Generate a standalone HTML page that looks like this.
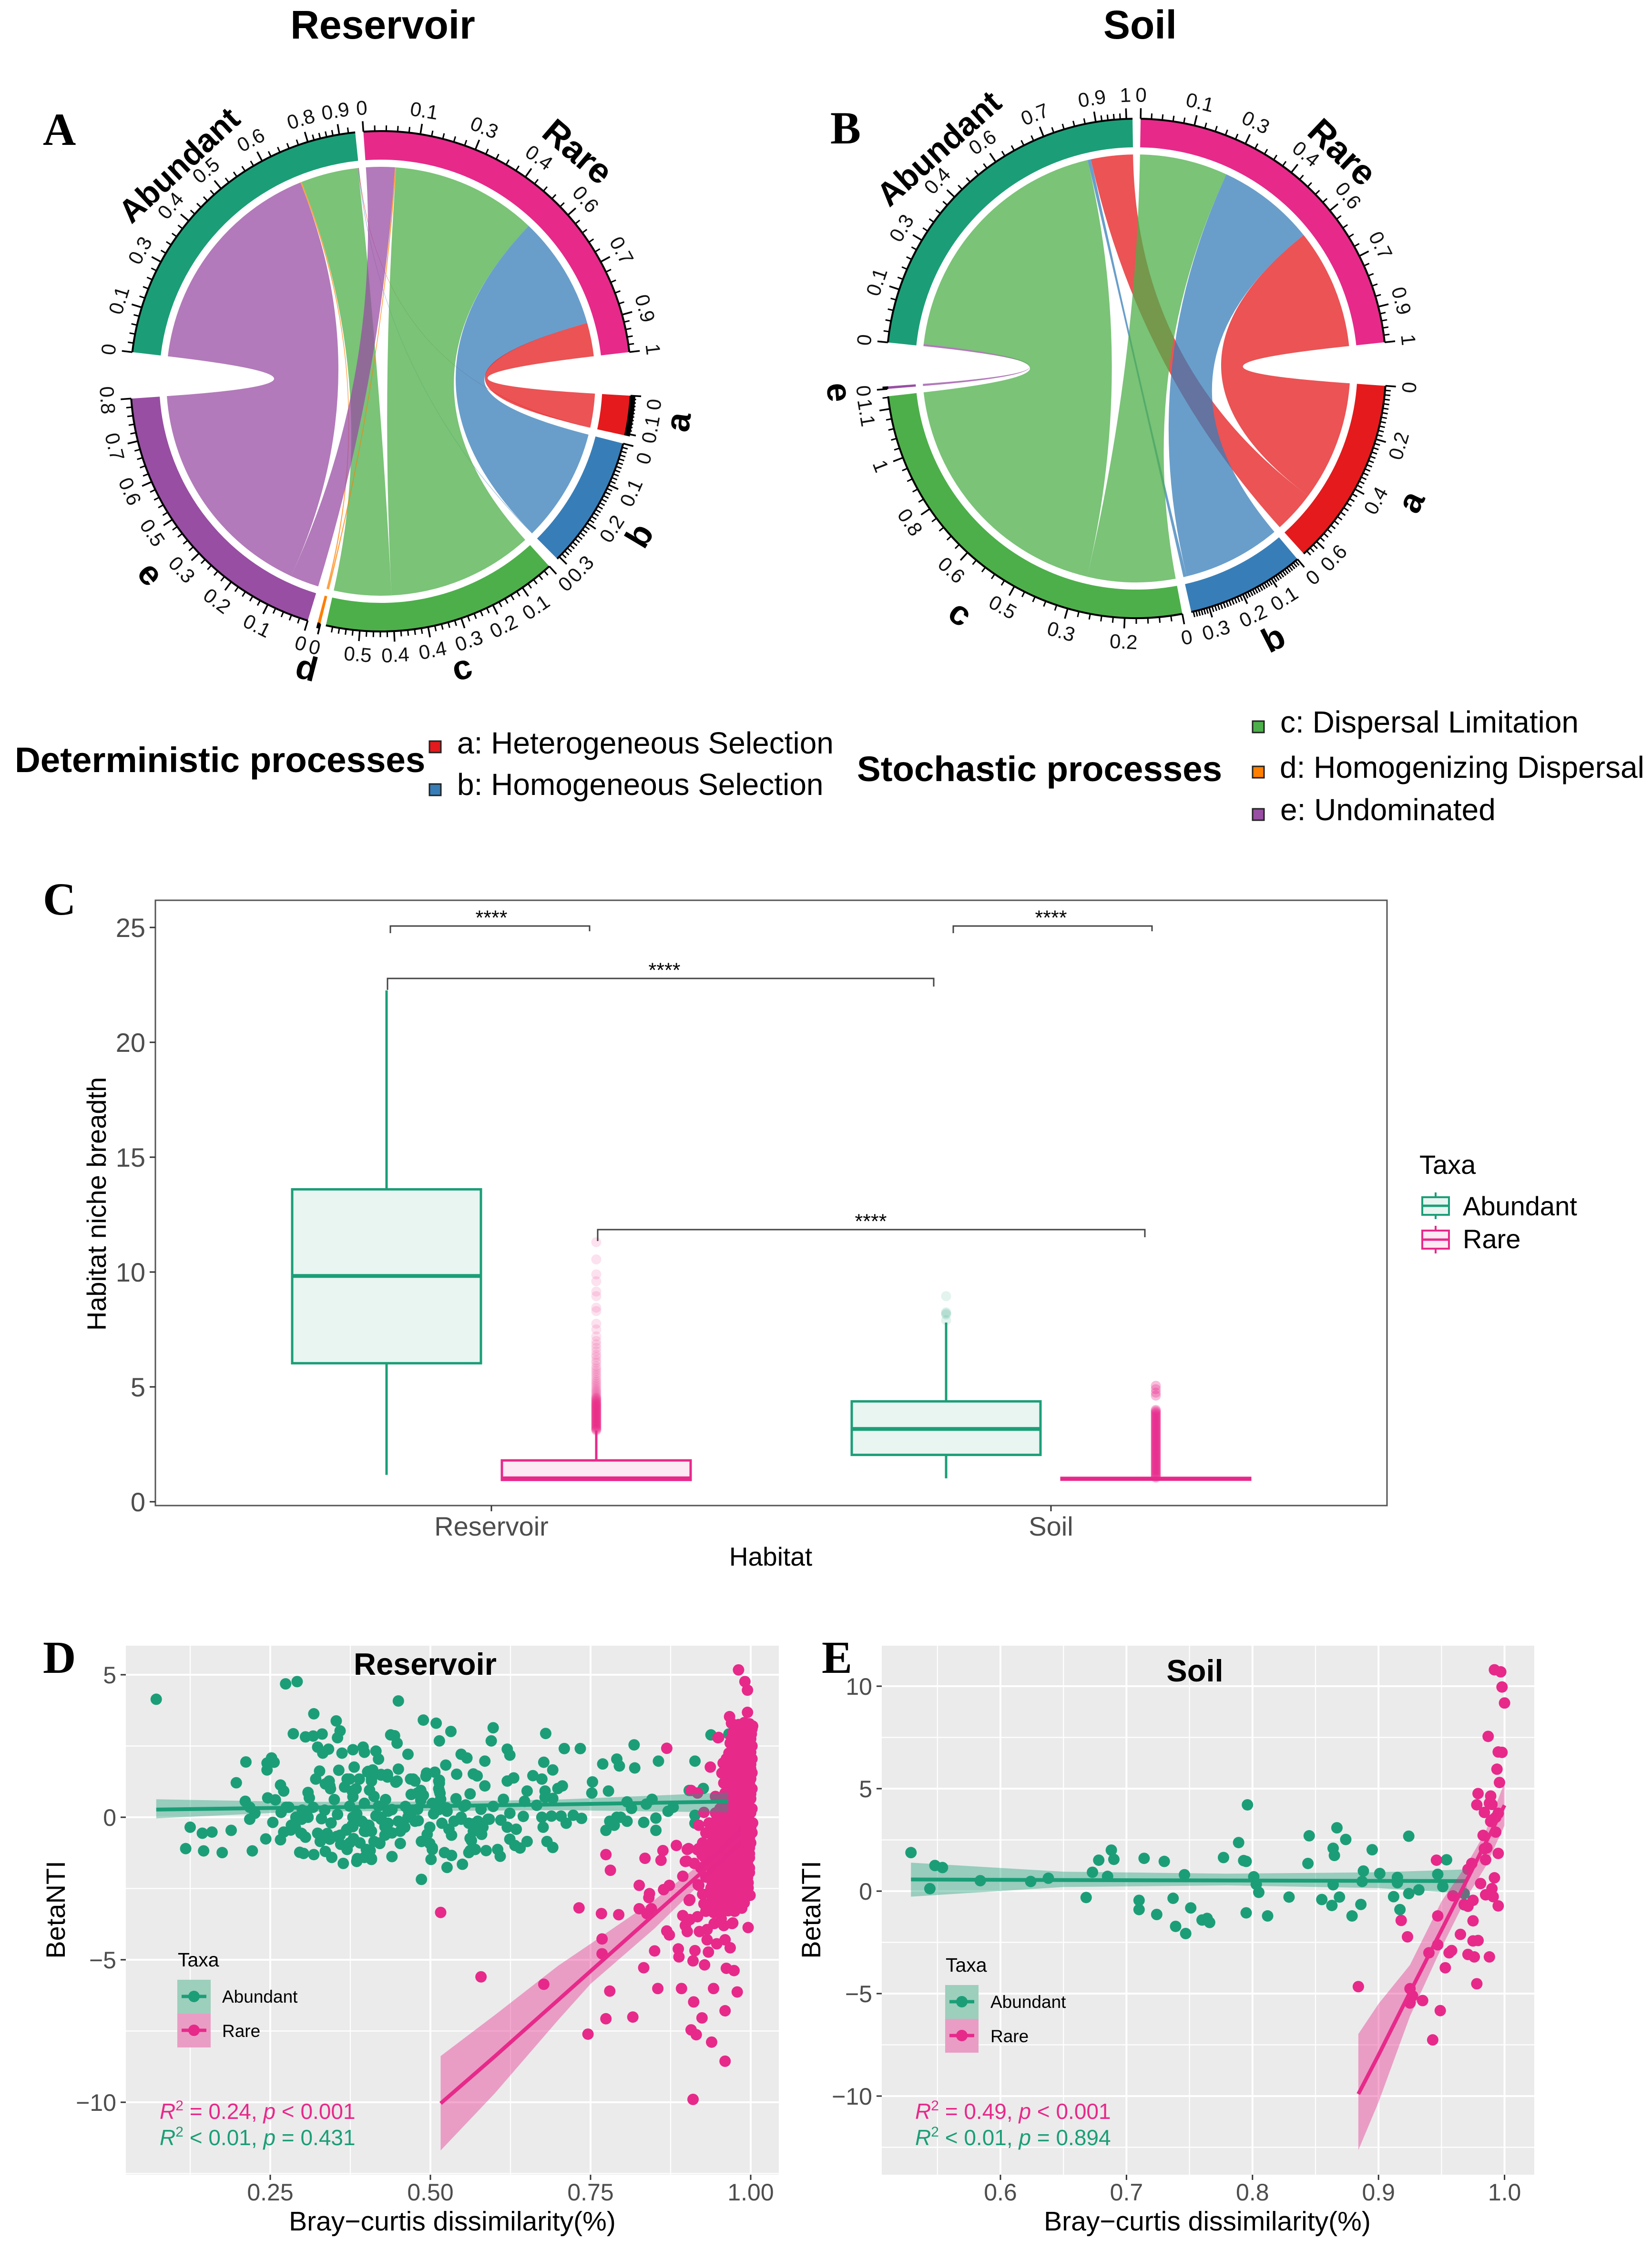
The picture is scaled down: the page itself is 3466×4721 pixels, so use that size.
<!DOCTYPE html>
<html lang="en">
<head>
<meta charset="utf-8">
<title>Community assembly chord diagrams, niche breadth and BetaNTI scatter plots</title>
<style>
html,body{margin:0;padding:0;background:#fff}
svg{display:block}
text{font-family:"Liberation Sans",Arial,sans-serif}
.letter{font-family:"Liberation Serif","Times New Roman",serif;font-weight:700;font-size:96px;fill:#000}
.title{font-weight:700;font-size:84px;fill:#000;text-anchor:middle}
.procs{font-weight:700;font-size:74.5px;fill:#000}
.leg{font-size:64px;fill:#000}
.stars{font-size:43px;fill:#000;text-anchor:middle}
.tickC{font-size:56px;fill:#4d4d4d}
.axisT{font-size:56px;fill:#000}
.tickS{font-size:50px;fill:#4d4d4d}
.axisS{font-size:57px;fill:#000}
.panelT{font-size:65px;font-weight:700;fill:#000;text-anchor:middle}
.r2{font-size:46px}
</style>
</head>
<body>
<svg id="figure" xmlns="http://www.w3.org/2000/svg" width="3466" height="4721" viewBox="0 0 3466 4721">
  <rect width="3466" height="4721" fill="#fff"/>

  <text class="title" x="803" y="81">Reservoir</text>
  <text class="title" x="2392" y="81">Soil</text>
  <text class="letter" x="90" y="304">A</text>
  <text class="letter" x="1742" y="301">B</text>
  <g id="chordA"></g>
  <g id="chordB"></g>

  <g>
    <text class="procs" x="31" y="1620">Deterministic processes</text>
    <rect x="901" y="1555" width="24" height="24" fill="#E41A1C" stroke="#222" stroke-width="3"/>
    <text class="leg" x="959" y="1581">a: Heterogeneous Selection</text>
    <rect x="901" y="1645" width="24" height="24" fill="#377EB8" stroke="#222" stroke-width="3"/>
    <text class="leg" x="959" y="1668">b: Homogeneous Selection</text>
    <text class="procs" x="1798" y="1639">Stochastic processes</text>
    <rect x="2628" y="1513" width="24" height="24" fill="#4DAF4A" stroke="#222" stroke-width="3"/>
    <text class="leg" x="2686" y="1537">c: Dispersal Limitation</text>
    <rect x="2628" y="1608" width="24" height="24" fill="#FF7F00" stroke="#222" stroke-width="3"/>
    <text class="leg" x="2685" y="1632">d: Homogenizing Dispersal</text>
    <rect x="2628" y="1697" width="24" height="24" fill="#984EA3" stroke="#222" stroke-width="3"/>
    <text class="leg" x="2686" y="1721">e: Undominated</text>
  </g>

  <text class="letter" x="90" y="1919">C</text>
  <g id="boxplot"></g>
  <g fill="none" stroke="#444" stroke-width="3">
    <path d="M819 1958V1943H1237V1954"/>
    <path d="M2000 1958V1943H2417V1954"/>
    <path d="M813 2077V2053H1959V2070"/>
    <path d="M1254 2604V2580H2402V2596"/>
  </g>
  <text class="stars" x="1031" y="1940">****</text>
  <text class="stars" x="2205" y="1940">****</text>
  <text class="stars" x="1394" y="2050">****</text>
  <text class="stars" x="1827" y="2577">****</text>
  <text class="axisT" x="1617" y="3285" text-anchor="middle" style="font-size:55px">Habitat</text>
  <text class="axisT" transform="translate(222 2526) rotate(-90)" text-anchor="middle">Habitat niche breadth</text>
  <g>
    <text class="axisT" x="2978" y="2463">Taxa</text>
    <path d="M3012 2502V2558" stroke="#1B9E77" stroke-width="4"/>
    <rect x="2984" y="2512" width="56" height="37" fill="#E8F5F1" stroke="#1B9E77" stroke-width="4"/>
    <path d="M2984 2530H3040" stroke="#1B9E77" stroke-width="5"/>
    <text class="axisT" x="3069" y="2550">Abundant</text>
    <path d="M3012 2572V2630" stroke="#E7298A" stroke-width="4"/>
    <rect x="2984" y="2582" width="56" height="38" fill="#FCE9F3" stroke="#E7298A" stroke-width="4"/>
    <path d="M2984 2601H3040" stroke="#E7298A" stroke-width="5"/>
    <text class="axisT" x="3069" y="2619">Rare</text>
  </g>

  <g id="scatterD"></g>
  <g id="scatterE"></g>

  <text class="letter" x="90" y="3510">D</text>
  <text class="panelT" x="892" y="3514">Reservoir</text>
  <text class="axisT" transform="translate(136 4007) rotate(-90)" text-anchor="middle">BetaNTI</text>
  <text class="axisS" x="949" y="4680" text-anchor="middle">Bray−curtis dissimilarity(%)</text>
  <g>
    <text x="373" y="4126" style="font-size:41px" fill="#000">Taxa</text>
    <rect x="372" y="4154" width="70" height="71" fill="#9CCFBC"/>
    <rect x="372" y="4225" width="70" height="71" fill="#E99DC4"/>
    <path d="M381 4189H433" stroke="#1B9E77" stroke-width="7"/>
    <circle cx="407" cy="4189" r="12" fill="#1B9E77"/>
    <path d="M381 4260H433" stroke="#E7298A" stroke-width="7"/>
    <circle cx="407" cy="4260" r="12" fill="#E7298A"/>
    <text x="466" y="4202" style="font-size:37px" fill="#000">Abundant</text>
    <text x="466" y="4274" style="font-size:37px" fill="#000">Rare</text>
  </g>
  <text class="r2" x="335" y="4446" fill="#E7298A"><tspan font-style="italic">R</tspan><tspan dy="-18" font-size="30">2</tspan><tspan dy="18"> = 0.24, </tspan><tspan font-style="italic">p</tspan> &lt; 0.001</text>
  <text class="r2" x="335" y="4501" fill="#1B9E77"><tspan font-style="italic">R</tspan><tspan dy="-18" font-size="30">2</tspan><tspan dy="18"> &lt; 0.01, </tspan><tspan font-style="italic">p</tspan> = 0.431</text>

  <text class="letter" x="1724" y="3510">E</text>
  <text class="panelT" x="2507" y="3528">Soil</text>
  <text class="axisT" transform="translate(1721 4007) rotate(-90)" text-anchor="middle">BetaNTI</text>
  <text class="axisS" x="2533" y="4680" text-anchor="middle">Bray−curtis dissimilarity(%)</text>
  <g>
    <text x="1984" y="4137" style="font-size:41px" fill="#000">Taxa</text>
    <rect x="1983" y="4165" width="70" height="71" fill="#9CCFBC"/>
    <rect x="1983" y="4236" width="70" height="71" fill="#E99DC4"/>
    <path d="M1992 4200H2044" stroke="#1B9E77" stroke-width="7"/>
    <circle cx="2018" cy="4200" r="12" fill="#1B9E77"/>
    <path d="M1992 4271H2044" stroke="#E7298A" stroke-width="7"/>
    <circle cx="2018" cy="4271" r="12" fill="#E7298A"/>
    <text x="2078" y="4213" style="font-size:37px" fill="#000">Abundant</text>
    <text x="2078" y="4285" style="font-size:37px" fill="#000">Rare</text>
  </g>
  <text class="r2" x="1920" y="4446" fill="#E7298A"><tspan font-style="italic">R</tspan><tspan dy="-18" font-size="30">2</tspan><tspan dy="18"> = 0.49, </tspan><tspan font-style="italic">p</tspan> &lt; 0.001</text>
  <text class="r2" x="1920" y="4501" fill="#1B9E77"><tspan font-style="italic">R</tspan><tspan dy="-18" font-size="30">2</tspan><tspan dy="18"> &lt; 0.01, </tspan><tspan font-style="italic">p</tspan> = 0.894</text>
</svg>

<script>
/* ---------- chord data (relative proportion per taxa group) ---------- */
const reservoirRareFlows = {e:0.089,d:0.004,c:0.452,b:0.351,a:0.104};
const reservoirAbundantFlows = {e:0.702,d:0.004,c:0.178,b:0.0015,a:0.0015};
const reservoirGaps = [10,1.9,2.5,1.3,2.3,10.65,1.9];
const soilRareFlows = {c:0.288,b:0.32,a:0.392};
const soilAbundantFlows = {e:0.007,c:0.847,b:0.011,a:0.137};
const soilGaps = [10,1.9,2.1,1.7,10.1,1.88];

const reservoirTicks = {
  Rare:{v:[0,.15,.3,.45,.6,.75,.9,1],l:['0','0.1','0.3','0.4','0.6','0.7','0.9','1'],n:5},
  a:{v:[0,.1],lv:[.018,.078],l:['0','0.1'],n:11,thick:true},
  b:{v:[0,.115,.23,.345],lv:[.022,.11,.208,.33],l:['0','0.1','0.2','0.3'],n:11},
  c:{v:[0,.09,.18,.27,.36,.45,.54],l:['0','0.1','0.2','0.3','0.4','0.4','0.5'],n:5},
  d:{v:[0],l:['0'],n:1,thick:true},
  e:{v:[0,.113,.226,.339,.452,.565,.678,.791],l:['0','0.1','0.2','0.3','0.5','0.6','0.7','0.8'],n:5},
  Abundant:{v:[0,.12,.25,.38,.5,.63,.76,.845],l:['0','0.1','0.3','0.4','0.5','0.6','0.8','0.9'],n:5}
};
const soilTicks = {
  Rare:{v:[0,.15,.3,.45,.6,.75,.9,1],l:['0','0.1','0.3','0.4','0.6','0.7','0.9','1'],n:5},
  a:{v:[0,.15,.3,.48],l:['0','0.2','0.4','0.6'],n:12},
  b:{v:[0,.09,.18,.28],l:['0','0.1','0.2','0.3'],n:12},
  c:{v:[0,.16,.32,.48,.64,.8,.96,1.1],l:['0','0.2','0.3','0.5','0.6','0.8','1','1.1'],n:5},
  e:{v:[0],l:['0'],n:1,thick:true},
  Abundant:{v:[0,.15,.3,.45,.6,.75,.9,.985],l:['0','0.1','0.3','0.4','0.6','0.7','0.9','1'],n:5}
};
const reservoirNamePlacement = {Rare:{t:40.6,r:635,fs:74},a:{t:97.8,r:630,fs:72},b:{t:120.8,r:632,fs:72},c:{t:164.2,r:625,fs:72},d:{t:194.5,r:622,fs:72},e:{t:230.1,r:630,fs:72},Abundant:{t:317,r:620,fs:68}};
const soilNamePlacement = {Rare:{t:43.6,r:627,fs:74},a:{t:115.9,r:641,fs:72},b:{t:153.1,r:636,fs:72},c:{t:215.7,r:633,fs:72},e:{t:265.4,r:626,fs:72},Abundant:{t:318.1,r:620,fs:69}};

/* ---------- box plot data ---------- */
const habitats = ['Reservoir','Soil'];
const abundantMin = [1.17,1.02];
const abundantQ1 = [6.03,2.04];
const abundantMedian = [9.83,3.17];
const abundantQ3 = [13.6,4.37];
const abundantMax = [22.26,7.8];
const rareMin = [0.95,1.0];
const rareQ1 = [0.95,0.96];
const rareMedian = [1.02,1.0];
const rareQ3 = [1.8,1.04];
const rareMax = [3.1,1.04];
const boxYTicks = [0,5,10,15,20,25];
const reservoirRareOutliers = [11.3,10.55,9.9,9.6,9.15,8.95,8.45,8.3,7.75,7.5,7.2,7.0,6.85,6.7,6.55,6.4,6.3,6.15,6.05,5.9,5.8,5.7,5.6,5.5,5.4,5.3,5.22,5.14,5.06,4.98,4.9,4.84,4.78,4.72,4.66,4.6,4.55,4.5,4.45,4.4,4.35,4.3,4.26,4.22,4.18,4.14,4.1,4.06,4.02,3.98,3.94,3.9,3.86,3.82,3.78,3.74,3.7,3.66,3.62,3.58,3.54,3.5,3.46,3.42,3.38,3.34,3.3,3.26,3.22,3.18,3.14,3.1,4.52,4.47,4.41,4.37,4.32,4.28,4.24,4.2,4.16,4.12,4.08,4.04,4,3.96,3.92,3.88,3.84,3.8,3.76,3.72,3.68,3.64,3.6,3.56,3.52,3.48,3.44,3.4,3.36,3.32,3.28,3.24,3.2,3.16,3.12];
const soilAbundantOutliers = [8.95,8.25,8.2,8.15,7.9];
const soilRareOutliers = [5.05,4.9,4.75,4.62,4.0,3.95,3.85,3.75,3.65,3.55,3.45,3.35,3.25,3.15,3.05,2.95,2.85,2.75,2.65,2.55,2.45,2.35,2.25,2.15,2.05,1.95,1.85,1.75,1.65,1.55,1.45,1.35,1.25,1.15,1.05,3.9,3.8,3.7,3.6,3.5,3.4,3.3,3.2,3.1,3,2.9,2.8,2.7,2.6,2.5,2.4,2.3,2.2,2.1,2,1.9,1.8,1.7,1.6,1.5,1.4,1.3,1.2,1.1];

/* ---------- scatter D (Reservoir) ---------- */
const dXTicks = [0.25,0.5,0.75,1];
const dXTickLabels = ['0.25','0.50','0.75','1.00'];
const dXMinor = [0.125,0.375,0.625,0.875];
const dYTicks = [5,0,-5,-10];
const dYTickLabels = ['5','0','−5','−10'];
const dYMinor = [2.5,-2.5,-7.5,-12.5];
const reservoirAbundantPoints = [[.072,4.14],[.274,4.68],[.292,4.76],[.45,4.08],[.318,3.63],[.353,3.38],[.359,3.03],[.355,2.79],[.286,2.93],[.305,2.82],[.317,2.85],[.331,2.92],[.489,3.41],[.509,3.3],[.532,3.01],[.598,3.14],[.68,2.94],[.438,2.89],[.444,2.86],[.448,2.6],[.514,2.68],[.595,2.68],[.324,2.46],[.341,2.39],[.332,2.25],[.362,2.25],[.379,2.37],[.395,2.46],[.397,2.28],[.415,2.32],[.419,2.04],[.465,2.21],[.212,1.94],[.252,2.08],[.245,1.9],[.256,1.93],[.245,1.66],[.62,2.39],[.624,2.18],[.709,2.41],[.734,2.41],[.818,2.54],[.548,2.21],[.557,2.08],[.585,1.97],[.524,1.83],[.677,1.93],[.691,1.66],[.769,1.87],[.791,2.04],[.795,1.8],[.819,1.73],[.856,1.97],[.913,1.97],[.938,2.89],[.966,2.92],[.327,1.62],[.357,1.65],[.381,1.76],[.402,1.59],[.41,1.66],[.45,1.69],[.321,1.34],[.342,1.27],[.37,1.34],[.389,1.34],[.408,1.27],[.423,1.48],[.433,1.41],[.446,1.23],[.469,1.34],[.476,1.27],[.494,1.55],[.507,1.58],[.514,1.3],[.541,1.51],[.567,1.52],[.573,1.45],[.585,1.1],[.66,1.46],[.674,1.34],[.62,1.27],[.63,1.38],[.753,1.24],[.706,1.1],[.699,1.01],[.752,.85],[.778,.92],[.904,.94],[.926,1.01],[.197,1.21],[.266,1.13],[.271,.92],[.309,.87],[.311,.68],[.343,1.1],[.366,1.06],[.378,.92],[.412,.73],[.48,.85],[.489,.77],[.514,.92],[.516,.63],[.562,.82],[.614,.63],[.651,.92],[.679,.92],[.679,.7],[.691,.66],[.211,.56],[.246,.68],[.258,.61],[.275,.35],[.647,.56],[.666,.42],[.807,.54],[.814,.31],[.837,.46],[.846,.63],[.871,.21],[.879,.35],[.218,.35],[.226,.14],[.218,-.07],[.267,.17],[.279,.35],[.317,.35],[.355,.1],[.374,.39],[.397,.49],[.419,.39],[.434,.21],[.461,.38],[.48,.28],[.503,.49],[.518,.35],[.526,.21],[.552,.38],[.579,.28],[.598,.38],[.624,.14],[.674,0],[.689,.04],[.704,.04],[.723,.07],[.736,-.04],[.645,.03],[.852,-.03],[.797,0],[.807,-.14],[.791,0],[.78,-.14],[.833,-.18],[.913,.07],[.913,-.21],[.852,-.46],[.774,-.46],[.787,-.28],[.712,-.21],[.676,-.35],[.125,-.35],[.144,-.56],[.159,-.52],[.189,-.46],[.118,-1.1],[.146,-1.18],[.175,-1.24],[.222,-1.18],[.243,-.76],[.266,-.79],[.254,-.18],[.29,0],[.309,0],[.283,-.28],[.271,-.52],[.298,-.56],[.305,-.7],[.324,-.56],[.328,-.85],[.343,-.77],[.359,-.63],[.37,-.42],[.378,-.28],[.393,-.14],[.404,-.28],[.397,-.49],[.408,-.49],[.423,-.07],[.434,-.21],[.45,-.14],[.453,-.49],[.465,0],[.476,-.14],[.499,-.35],[.518,-.21],[.537,-.14],[.548,0],[.56,-.21],[.574,-.14],[.59,-.07],[.529,-.42],[.533,-.63],[.567,-.49],[.582,-.35],[.564,-.82],[.62,-.35],[.634,-.42],[.624,-.77],[.651,-.85],[.682,-.85],[.691,-1.06],[.296,-1.23],[.302,-1.27],[.318,-1.31],[.336,-1.2],[.346,-1.41],[.364,-1.62],[.37,-1.13],[.385,-1.55],[.397,-1.41],[.408,-1.48],[.4,-1.13],[.412,-.85],[.421,-.92],[.44,-1.38],[.453,-.92],[.486,-.85],[.499,-.92],[.503,-1.13],[.501,-1.48],[.522,-1.24],[.533,-1.34],[.526,-1.76],[.55,-1.65],[.56,-1.24],[.57,-1.13],[.587,-1.17],[.605,-1.13],[.609,-1.37],[.632,-.99],[.64,-1.08],[.486,-2.18],[.335,.25],[.345,-.2],[.35,.62],[.385,.12],[.39,-.9],[.415,.05],[.43,.62],[.44,-.55],[.47,.8],[.495,-.6],[.505,.12],[.54,.65],[.36,-.95],[.38,-.75],[.3,.25],[.33,-.05],[.405,.95],[.46,-.35],[.58,-.6],[.61,-.1],[.289,-.34],[.299,-.07],[.299,-.57],[.282,-.45],[.307,.1],[.327,-.62],[.339,-.57],[.354,-.67],[.369,-.45],[.379,0],[.379,-.33],[.394,-.17],[.399,-.5],[.374,-.9],[.406,-1.17],[.386,-1.45],[.408,-1.45],[.423,0],[.429,-.33],[.429,-.63],[.421,-.9],[.44,.27],[.458,-.33],[.466,.22],[.47,0],[.481,-.12],[.485,.6],[.485,.94],[.513,.27],[.525,.33],[.515,.84],[.514,1.2],[.555,.43],[.548,-.07],[.567,-.23],[.592,-.07],[.562,-.74],[.562,-1.17],[.503,-1.07],[.336,1.17],[.344,1.0],[.374,1.34],[.384,1.0],[.379,.72],[.403,1.61],[.408,1.34],[.423,1.5],[.433,1.5],[.448,1.27],[.473,1.34],[.493,1.44],[.513,1.27],[.513,1.0]];
const reservoirRareScatter = [[.869,2.42],[.949,2.79],[.937,1.76],[.917,.85],[.907,.94],[.919,-.28],[.884,-.99],[.863,-1.17],[.86,-1.51],[.835,-1.44],[.774,-1.31],[.781,-1.86],[.901,-1.13],[.919,-1.1],[.898,-1.55],[.928,-1.41],[.894,-2.07],[.919,-2.39],[.826,-2.39],[.864,-2.54],[.873,-2.39],[.842,-2.68],[.841,-2.82],[.904,-2.92],[.732,-3.18],[.767,-3.38],[.794,-3.42],[.826,-3.21],[.845,-3.21],[.838,-3.38],[.516,-3.34],[.579,-5.6],[.677,-5.86],[.768,-4.27],[.768,-4.79],[.78,-6.1],[.774,-7.07],[.746,-7.61],[.816,-7.01],[.833,-5.28],[.85,-4.69],[.855,-6.01],[.869,-3.99],[.873,-4.13],[.887,-4.62],[.888,-4.9],[.892,-6.01],[.911,-6.48],[.91,-5.04],[.913,-4.68],[.928,-5.18],[.934,-4.73],[.932,-4.3],[.924,-7.04],[.907,-7.46],[.915,-7.63],[.939,-7.89],[.942,-6.01],[.96,-6.79],[.96,-8.56],[.91,-9.9],[.979,-6.13],[.962,-5.3],[.974,-5.38],[.968,-4.58],[.96,-4.3],[.947,-4.44],[.996,-3.87],[.894,-3.45],[.905,-3.59],[.917,-3.49],[.898,-3.8],[.901,-4.01],[.92,-4.01],[.932,-3.94],[.943,-3.73],[.958,-3.8],[.971,-3.73],[.981,5.17],[.991,4.76],[.995,4.46],[.967,3.53],[.995,3.68],[.95,2.8],[.945,.73],[.927,.17],[.937,-.54],[.938,-1.02],[.903,-1.1],[.917,-1.14],[.924,-1.32],[.9,-1.54],[.912,-1.62],[.922,-1.77],[.918,-2.37],[.905,-2.89],[.927,-3.04],[.942,-3.34],[.954,-3.56],[.972,-3.71],[.986,-3.19],[.999,-2.74]];
const reservoirRareDense = [[.97,3.3],[.981,3.25],[.99,3.32],[.998,3.28],[1.003,3.2],[.972,2.95],[.983,2.9],[.992,3.0],[1.001,2.92],[.968,2.6],[.978,2.65],[.988,2.55],[.998,2.62],[1.002,2.5],[.966,2.25],[.976,2.2],[.985,2.3],[.995,2.18],[1,2.28],[.957,1.9],[.97,1.95],[.98,1.85],[.99,1.92],[1,1.86],[.955,1.55],[.965,1.6],[.975,1.5],[.985,1.58],[.995,1.48],[1.002,1.56],[.958,1.2],[.968,1.26],[.978,1.15],[.988,1.22],[.998,1.17],[.96,.85],[.97,.9],[.98,.8],[.99,.88],[1,.82],[.956,.5],[.966,.55],[.976,.46],[.986,.52],[.996,.48],[.945,.15],[.958,.2],[.97,.1],[.98,.18],[.99,.12],[1,.16],[.935,-.2],[.945,-.15],[.955,-.25],[.965,-.18],[.975,-.22],[.985,-.16],[.995,-.24],[1.003,-.2],[.94,-.55],[.952,-.6],[.962,-.5],[.972,-.58],[.982,-.52],[.992,-.6],[1.002,-.54],[.925,-.9],[.94,-.85],[.952,-.95],[.965,-.88],[.975,-.92],[.985,-.86],[.995,-.94],[1,-.9],[.93,-1.25],[.94,-1.3],[.95,-1.2],[.96,-1.28],[.97,-1.22],[.98,-1.3],[.99,-1.24],[.998,-1.28],[.945,-1.6],[.955,-1.65],[.965,-1.56],[.975,-1.62],[.985,-1.58],[.995,-1.64],[.95,-1.95],[.96,-1.9],[.97,-2.0],[.98,-1.92],[.99,-1.98],[.998,-1.94],[.94,-2.3],[.95,-2.25],[.96,-2.34],[.97,-2.28],[.98,-2.32],[.99,-2.26],[.996,-2.3],[.935,-2.65],[.945,-2.6],[.955,-2.7],[.965,-2.62],[.975,-2.68],[.985,-2.64],[.995,-2.7],[.94,-3.0],[.95,-2.95],[.96,-3.05],[.97,-2.98],[.98,-3.02],[.99,-3.0],[.93,-3.3],[.945,-3.25],[.955,-3.32],[.965,-3.28],[.975,-3.3],[.93,-2.1],[.935,-1.6],[.93,-.55],[.925,-2.7],[.94,-1.9],[.948,-.9],[.975,3.1],[.985,3.1],[.995,3.1],[1.002,3.1],[.97,2.75],[.98,2.75],[.99,2.75],[1,2.75],[.972,2.4],[.982,2.4],[.992,2.4],[.999,2.4],[.962,2.05],[.975,2.05],[.985,2.05],[.995,2.05],[1.002,2.05],[.96,1.7],[.97,1.7],[.98,1.7],[.99,1.7],[1,1.7],[.963,1.35],[.973,1.35],[.983,1.35],[.993,1.35],[1,1.35],[.965,1],[.975,1],[.985,1],[.995,1],[1.002,1],[.962,.65],[.972,.65],[.982,.65],[.992,.65],[1,.65],[.952,.3],[.963,.3],[.973,.3],[.983,.3],[.993,.3],[1.002,.3],[.95,-.03],[.962,-.03],[.975,-.03],[.985,-.03],[.995,-.03],[.94,-.38],[.95,-.38],[.96,-.38],[.97,-.38],[.98,-.38],[.99,-.38],[1,-.38],[.945,-.72],[.958,-.72],[.968,-.72],[.978,-.72],[.988,-.72],[.998,-.72],[.935,-1.07],[.947,-1.07],[.958,-1.07],[.968,-1.07],[.978,-1.07],[.988,-1.07],[.998,-1.07],[.94,-1.42],[.95,-1.42],[.96,-1.42],[.97,-1.42],[.98,-1.42],[.99,-1.42],[.998,-1.42],[.94,-1.78],[.95,-1.78],[.96,-1.78],[.97,-1.78],[.98,-1.78],[.99,-1.78],[.998,-1.78],[.945,-2.12],[.955,-2.12],[.965,-2.12],[.975,-2.12],[.985,-2.12],[.995,-2.12],[.938,-2.48],[.948,-2.48],[.958,-2.48],[.968,-2.48],[.978,-2.48],[.988,-2.48],[.996,-2.48],[.94,-2.82],[.95,-2.82],[.96,-2.82],[.97,-2.82],[.98,-2.82],[.99,-2.82],[.95,-3.15],[.96,-3.15],[.97,-3.15],[.98,-3.15],[.985,-3.15]];
const reservoirAbundantFitX = [.072,.3,.5,.7,.965];
const reservoirAbundantFitY = [.27,.34,.39,.45,.55];
const reservoirAbundantUpper = [.63,.54,.55,.62,.87];
const reservoirAbundantLower = [-.04,.2,.22,.25,.17];
const reservoirRareFitX = [.516,.6,.7,.75,.85,.95,.985];
const reservoirRareFitY = [-10.04,-8.4,-6.4,-5.4,-3.4,-1.41,-.7];
const reservoirRareUpper = [-8.38,-6.95,-5.2,-4.44,-2.9,-1.13,-.3];
const reservoirRareLower = [-11.69,-9.7,-7.1,-5.85,-3.9,-1.7,-1.0];

/* ---------- scatter E (Soil) ---------- */
const eXTicks = [.6,.7,.8,.9,1];
const eXTickLabels = ['0.6','0.7','0.8','0.9','1.0'];
const eXMinor = [.55,.65,.75,.85,.95];
const eYTicks = [10,5,0,-5,-10];
const eYTickLabels = ['10','5','0','−5','−10'];
const eYMinor = [7.5,2.5,-2.5,-7.5,-12.5];
const soilAbundantPoints = [[.529,1.88],[.544,.12],[.548,1.25],[.554,1.15],[.584,.51],[.624,.47],[.638,.63],[.668,-.31],[.673,.92],[.678,1.51],[.685,.72],[.688,2.0],[.69,1.55],[.71,-.45],[.71,-.9],[.714,1.6],[.724,-1.14],[.73,1.45],[.737,-.35],[.739,-1.72],[.746,.8],[.747,-2.07],[.751,-.82],[.76,-1.41],[.764,-1.33],[.766,-1.53],[.777,1.64],[.789,2.37],[.793,1.49],[.795,1.45],[.795,-1.06],[.796,4.21],[.801,.7],[.803,.33],[.805,-.06],[.812,-1.21],[.829,-.29],[.844,1.35],[.845,2.7],[.855,-.41],[.863,-.7],[.864,2.09],[.865,1.74],[.864,.31],[.867,3.09],[.869,-.29],[.874,2.52],[.879,-1.21],[.886,-.65],[.887,.47],[.888,.98],[.895,2.02],[.901,.86],[.912,-.27],[.915,.67],[.915,.41],[.917,-.9],[.924,-.12],[.924,2.68],[.932,.06],[.947,.82],[.954,1.53],[.951,.22],[.968,-.12],[.968,-.67]];
const soilRarePoints = [[.992,10.8],[.997,10.7],[.998,9.96],[1,9.18],[.987,7.55],[.995,6.79],[.998,6.77],[.994,5.95],[.996,5.3],[.979,4.76],[.978,4.21],[.989,4.64],[.988,4.29],[.99,4.23],[.984,3.84],[.995,3.8],[.993,3.6],[.989,3.4],[.991,3.5],[.993,2.88],[.983,2.72],[.984,2.07],[.986,2.11],[.995,1.84],[.985,1.53],[.974,1.35],[.971,1.06],[.946,1.51],[.992,.65],[.981,.37],[.99,.12],[.985,-.18],[.991,-.27],[.995,-.72],[.975,-.45],[.968,-.65],[.971,-.74],[.959,-.23],[.947,-1.21],[.975,-1.45],[.918,-1.43],[.923,-2.23],[.965,-2.11],[.975,-2.43],[.979,-2.41],[.947,-2.62],[.958,-2.9],[.956,-3.01],[.94,-3.01],[.971,-3.09],[.976,-3.21],[.988,-3.21],[.953,-3.74],[.978,-4.52],[.884,-4.66],[.925,-4.76],[.927,-5.11],[.925,-5.46],[.935,-5.34],[.949,-5.83],[.943,-7.26]];
const soilAbundantFitX = [.529,.65,.78,.9,.97];
const soilAbundantFitY = [.57,.54,.52,.5,.49];
const soilAbundantUpper = [1.39,.95,.85,.92,1.06];
const soilAbundantLower = [-.27,.2,.28,.15,-.12];
const soilRareFitX = [.884,.9,.925,.95,.97,.985,1];
const soilRareFitY = [-9.9,-8,-4.93,-1.9,.53,2.35,4.19];
const soilRareUpper = [-6.97,-5.5,-3.6,-.5,1.3,2.9,5.3];
const soilRareLower = [-12.64,-10.3,-6.1,-2.76,-.3,1.2,3.2];

/* ---------- helpers ---------- */
const NS = 'http://www.w3.org/2000/svg';
function mk(tag, attrs, parent){
  const el = document.createElementNS(NS, tag);
  for (const k in attrs) el.setAttribute(k, attrs[k]);
  parent.appendChild(el);
  return el;
}
const GREEN = '#1B9E77', PINK = '#E7298A';
const sectorColors = {Rare:PINK,Abundant:GREEN,a:'#E41A1C',b:'#377EB8',c:'#4DAF4A',d:'#FF7F00',e:'#984EA3'};

/* ---------- chord ---------- */
function sum(o){let s=0;for(const k in o)s+=o[k];return s;}
function drawChord(rootId, cx, cy, R, start, k, order, gaps, rareFlows, abundantFlows, ticks, placement){
  const root = document.getElementById(rootId);
  const P = (r,t)=>{const a=t*Math.PI/180;return [cx+r*Math.sin(a),cy-r*Math.cos(a)];};
  const fmt = p=>p[0].toFixed(1)+' '+p[1].toFixed(1);
  const sizes = {};
  order.forEach(s=>{
    if(s==='Rare') sizes[s]=sum(rareFlows);
    else if(s==='Abundant') sizes[s]=sum(abundantFlows);
    else sizes[s]=(rareFlows[s]||0)+(abundantFlows[s]||0);
  });
  const starts = {};
  let th = start;
  order.forEach((s,i)=>{starts[s]=th;th+=sizes[s]*k+gaps[i];});
  const rBandO = R-1, rBandI = R-60, rLink = R-75;

  /* ribbons: layout rare first, paint abundant first */
  const targetCursor = {};
  order.forEach(s=>{targetCursor[s]=starts[s];});
  const ribbonsG = mk('g',{},root);
  
  
  const queue = [];
  ['Rare','Abundant'].forEach(src=>{
    const flows = src==='Rare'?rareFlows:abundantFlows;
    let cur = starts[src];
    for(const t in flows){
      const w = flows[t]*k;
      const a1=cur,a2=cur+w,b1=targetCursor[t],b2=b1+w;
      cur=a2;targetCursor[t]=b2;
      const d='M'+fmt(P(rLink,a1))+'A'+rLink+' '+rLink+' 0 0 1 '+fmt(P(rLink,a2))+
        'Q'+cx+' '+cy+' '+fmt(P(rLink,b1))+'A'+rLink+' '+rLink+' 0 0 1 '+fmt(P(rLink,b2))+
        'Q'+cx+' '+cy+' '+fmt(P(rLink,a1))+'Z';
      queue.push({d:d,t:t,src:src});
    }
  });
  queue.filter(q=>q.src==='Abundant').concat(queue.filter(q=>q.src==='Rare')).forEach(q=>{
    const rib = mk('path',{d:q.d,fill:sectorColors[q.t],'fill-opacity':0.75},ribbonsG);
    
    
  });

  /* sectors */
  order.forEach(s=>{
    const t1=starts[s],t2=t1+sizes[s]*k;
    const band = mk('path',{d:'M'+fmt(P(rBandO,t1))+'A'+rBandO+' '+rBandO+' 0 0 1 '+fmt(P(rBandO,t2))+'L'+fmt(P(rBandI,t2))+'A'+rBandI+' '+rBandI+' 0 0 0 '+fmt(P(rBandI,t1))+'Z',fill:sectorColors[s]},root);
    
    
    const tk = ticks[s];
    const axisR = tk.thick?R+4:R;
    const axisW = tk.thick?12:4;
    const axisEnd = Math.max(t2,t1+0.6);
    const axis = mk('path',{d:'M'+fmt(P(axisR,t1))+'A'+axisR+' '+axisR+' 0 0 1 '+fmt(P(axisR,axisEnd)),fill:'none',stroke:'#000','stroke-width':axisW},root);
    
    
    const ang = v=>t1+v*k;
    tk.v.forEach((v,i)=>{
      const p1=P(R,ang(v)),p2=P(R+22,ang(v));
      const maj = mk('line',{x1:p1[0],y1:p1[1],x2:p2[0],y2:p2[1],stroke:'#000','stroke-width':3.5},root);
      
      
      const next = i<tk.v.length-1?tk.v[i+1]:v+(tk.v.length>1?tk.v[1]-tk.v[0]:sizes[s]);
      const step=(next-v)/tk.n;
      for(let j=1;j<tk.n;j++){
        const mv=v+j*step;
        if(mv>sizes[s])break;
        const q1=P(R,ang(mv)),q2=P(R+12,ang(mv));
        const mn = mk('line',{x1:q1[0],y1:q1[1],x2:q2[0],y2:q2[1],stroke:'#000','stroke-width':3},root);
        
        
      }
    });
    (tk.lv||tk.v).forEach((v,i)=>{
      const lp=P(R+50,ang(v));
      const n=((ang(v)%360)+360)%360;
      const rot=(n>90&&n<270)?n-180:n;
      const lab = mk('text',{x:lp[0],y:lp[1],'text-anchor':'middle','dominant-baseline':'central','font-size':42,fill:'#111',transform:'rotate('+rot.toFixed(1)+' '+lp[0].toFixed(1)+' '+lp[1].toFixed(1)+')'},root);
      
      
      lab.textContent=tk.l[i];
    });
    const pl=placement[s],nm=((pl.t%360)+360)%360,rm=(nm>90&&nm<270)?nm-180:nm;
    const sp=P(pl.r,pl.t);
    const name = mk('text',{x:sp[0],y:sp[1],'text-anchor':'middle','dominant-baseline':'central','font-size':pl.fs,'font-weight':700,fill:'#000',transform:'rotate('+rm.toFixed(1)+' '+sp[0].toFixed(1)+' '+sp[1].toFixed(1)+')'},root);
    
    
    name.textContent=s;
  });
}
drawChord('chordA',799,800,525,-4,87.3,['Rare','a','b','c','d','e','Abundant'],reservoirGaps,reservoirRareFlows,reservoirAbundantFlows,reservoirTicks,reservoirNamePlacement);
drawChord('chordB',2384,773,524,1,83,['Rare','a','b','c','e','Abundant'],soilGaps,soilRareFlows,soilAbundantFlows,soilTicks,soilNamePlacement);

/* ---------- box plot ---------- */
(function(){
  const root = document.getElementById('boxplot');
  const yC = v=>3151-v*48.2;
  const xC = i=>1031+i*1174;
  const DODGE = 220, HALF = 198;
  const panel = mk('rect',{x:326,y:1889,width:2584,height:1270,fill:'#fff',stroke:'#555','stroke-width':3},root);
  
  
  boxYTicks.forEach(v=>{
    const t = mk('line',{x1:314,x2:326,y1:yC(v),y2:yC(v),stroke:'#333','stroke-width':3},root);
    
    
    const l = mk('text',{x:305,y:yC(v)+20,'text-anchor':'end','class':'tickC'},root);
    
    
    l.textContent=v;
  });
  habitats.forEach((h,i)=>{
    const t = mk('line',{x1:xC(i),x2:xC(i),y1:3159,y2:3171,stroke:'#333','stroke-width':3},root);
    
    
    const l = mk('text',{x:xC(i),y:3222,'text-anchor':'middle','class':'tickC'},root);
    
    
    l.textContent=h;
  });
  function box(i,off,col,fill,mn,q1,me,q3,mx,name){
    const cx=xC(i)+off;
    const w = mk('line',{x1:cx,x2:cx,y1:yC(mn),y2:yC(mx),stroke:col,'stroke-width':5},root);
    
    
    const b = mk('rect',{x:cx-HALF,y:yC(q3),width:2*HALF,height:yC(q1)-yC(q3),fill:fill,stroke:col,'stroke-width':5},root);
    
    
    const m = mk('line',{x1:cx-HALF,x2:cx+HALF,y1:yC(me),y2:yC(me),stroke:col,'stroke-width':8},root);
    
    
  }
  function outliers(arr,cx,col,op,name){
    arr.forEach(v=>{
      const c = mk('circle',{cx:cx,cy:yC(v),r:10.5,fill:col,'fill-opacity':op},root);
      
      
    });
  }
  outliers(reservoirRareOutliers,xC(0)+DODGE,PINK,.14,'reservoir-rare');
  outliers(soilAbundantOutliers,xC(1)-DODGE,GREEN,.12,'soil-abundant');
  outliers(soilRareOutliers,xC(1)+DODGE,PINK,.3,'soil-rare');
  habitats.forEach((h,i)=>{
    const n=h.toLowerCase();
    box(i,-DODGE,GREEN,'#E8F5F1',abundantMin[i],abundantQ1[i],abundantMedian[i],abundantQ3[i],abundantMax[i],n+'-abundant');
    box(i,DODGE,PINK,'#FCE9F3',rareMin[i],rareQ1[i],rareMedian[i],rareQ3[i],rareMax[i],n+'-rare');
  });
})();

/* ---------- scatter panels ---------- */
function drawScatter(cfg){
  const root = document.getElementById(cfg.id);
  const n = cfg.prefix;
  const bg = mk('rect',{x:cfg.l,y:3453,width:cfg.r-cfg.l,height:1110,fill:'#EBEBEB'},root);
  
  
  cfg.xMinor.forEach(v=>{
    const g = mk('line',{x1:cfg.x(v),x2:cfg.x(v),y1:3453,y2:4563,stroke:'#fff','stroke-width':2.2},root);
    
    
  });
  cfg.yMinor.forEach(v=>{
    const g = mk('line',{x1:cfg.l,x2:cfg.r,y1:cfg.y(v),y2:cfg.y(v),stroke:'#fff','stroke-width':2.2},root);
    
    
  });
  cfg.xTicks.forEach((v,i)=>{
    const g = mk('line',{x1:cfg.x(v),x2:cfg.x(v),y1:3453,y2:4563,stroke:'#fff','stroke-width':4},root);
    
    
    const t = mk('line',{x1:cfg.x(v),x2:cfg.x(v),y1:4563,y2:4574,stroke:'#333','stroke-width':3},root);
    
    
    const l = mk('text',{x:cfg.x(v),y:4617,'text-anchor':'middle','class':'tickS'},root);
    
    
    l.textContent=cfg.xLabels[i];
  });
  cfg.yTicks.forEach((v,i)=>{
    const g = mk('line',{x1:cfg.l,x2:cfg.r,y1:cfg.y(v),y2:cfg.y(v),stroke:'#fff','stroke-width':4},root);
    
    
    const t = mk('line',{x1:cfg.l-11,x2:cfg.l,y1:cfg.y(v),y2:cfg.y(v),stroke:'#333','stroke-width':3},root);
    
    
    const l = mk('text',{x:cfg.l-20,y:cfg.y(v)+18,'text-anchor':'end','class':'tickS'},root);
    
    
    l.textContent=cfg.yLabels[i];
  });
  cfg.green.forEach(p=>{
    const c = mk('circle',{cx:cfg.x(p[0]),cy:cfg.y(p[1]),r:12,fill:GREEN},root);
    
    
  });
  cfg.pink.forEach(p=>{
    const c = mk('circle',{cx:cfg.x(p[0]),cy:cfg.y(p[1]),r:12,fill:PINK},root);
    
    
  });
  function fit(fx,fy,up,lo,col,name){
    const top = fx.map((v,i)=>cfg.x(v).toFixed(1)+','+cfg.y(up[i]).toFixed(1));
    const bot = fx.map((v,i)=>cfg.x(v).toFixed(1)+','+cfg.y(lo[i]).toFixed(1)).reverse();
    const band = mk('polygon',{points:top.concat(bot).join(' '),fill:col,'fill-opacity':.4},root);
    
    
    const line = mk('polyline',{points:fx.map((v,i)=>cfg.x(v).toFixed(1)+','+cfg.y(fy[i]).toFixed(1)).join(' '),fill:'none',stroke:col,'stroke-width':8},root);
    
    
  }
  fit(cfg.gf[0],cfg.gf[1],cfg.gf[2],cfg.gf[3],GREEN,'abundant');
  fit(cfg.pf[0],cfg.pf[1],cfg.pf[2],cfg.pf[3],PINK,'rare');
}
drawScatter({id:'scatterD',prefix:'scatter-d',l:264,r:1634,
  x:v=>567+(v-.25)*1344,y:v=>3813-v*59.8,
  xTicks:dXTicks,xLabels:dXTickLabels,xMinor:dXMinor,yTicks:dYTicks,yLabels:dYTickLabels,yMinor:dYMinor,
  green:reservoirAbundantPoints,pink:reservoirRareScatter.concat(reservoirRareDense),
  gf:[reservoirAbundantFitX,reservoirAbundantFitY,reservoirAbundantUpper,reservoirAbundantLower],
  pf:[reservoirRareFitX,reservoirRareFitY,reservoirRareUpper,reservoirRareLower]});
drawScatter({id:'scatterE',prefix:'scatter-e',l:1850,r:3219,
  x:v=>2099+(v-.6)*2644,y:v=>3968-v*43,
  xTicks:eXTicks,xLabels:eXTickLabels,xMinor:eXMinor,yTicks:eYTicks,yLabels:eYTickLabels,yMinor:eYMinor,
  green:soilAbundantPoints,pink:soilRarePoints,
  gf:[soilAbundantFitX,soilAbundantFitY,soilAbundantUpper,soilAbundantLower],
  pf:[soilRareFitX,soilRareFitY,soilRareUpper,soilRareLower]});
</script>
</body>
</html>
